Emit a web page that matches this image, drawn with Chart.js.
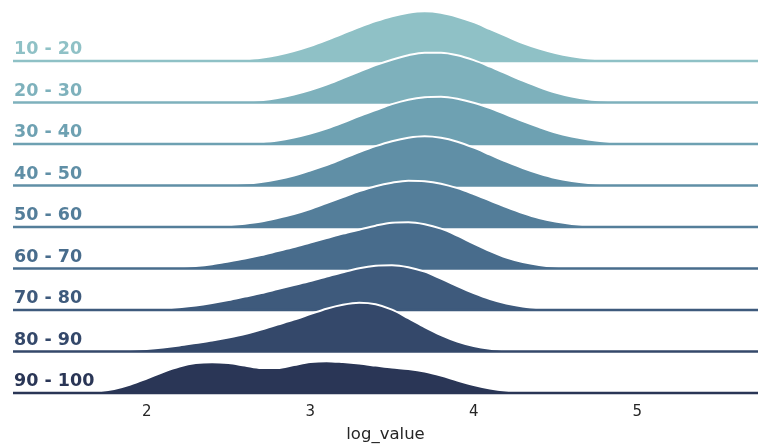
<!DOCTYPE html>
<html>
<head>
<meta charset="utf-8">
<title>log_value ridgeline</title>
<script src="https://cdn.jsdelivr.net/npm/chart.js@4.4.1/dist/chart.umd.min.js"></script>
<style>
  html, body { margin: 0; padding: 0; background: #ffffff; }
  #wrap { width: 758px; height: 445px; }
</style>
</head>
<body>
<div id="wrap"><canvas id="ridges" width="758" height="445"></canvas></div>
<script>
// Age groups, top ridge first
const AGE_GROUPS = ['10 - 20', '20 - 30', '30 - 40', '40 - 50', '50 - 60', '60 - 70', '70 - 80', '80 - 90', '90 - 100'];

// log_value positions where each density is sampled
const LOG_VALUE_GRID = [1.5, 1.6, 1.7, 1.8, 1.9, 2.0, 2.1, 2.2, 2.3, 2.4, 2.5, 2.6, 2.7, 2.8, 2.9,
                        3.0, 3.1, 3.2, 3.3, 3.4, 3.5, 3.6, 3.7, 3.8, 3.9,
                        4.0, 4.1, 4.2, 4.3, 4.4, 4.5, 4.6, 4.7, 4.8, 4.9, 5.0, 5.1];

// Kernel density of log_value for each age group
const DENSITY_10_20 = [0, 0, 0, 0, 0, 0, 0, 0, 0.002, 0.006, 0.015, 0.033, 0.065, 0.12, 0.2,
                       0.3, 0.42, 0.55, 0.68, 0.8, 0.9, 0.97, 1.0, 0.97, 0.89,
                       0.78, 0.64, 0.5, 0.36, 0.25, 0.16, 0.095, 0.05, 0.025, 0.011, 0.004, 0.001];
const DENSITY_20_30 = [0, 0, 0, 0, 0, 0, 0, 0, 0, 0.003, 0.008, 0.02, 0.045, 0.09, 0.16,
                       0.25, 0.36, 0.49, 0.62, 0.75, 0.86, 0.95, 1.0, 1.0, 0.95,
                       0.85, 0.72, 0.58, 0.44, 0.31, 0.2, 0.12, 0.065, 0.033, 0.015, 0.006, 0.002];
const DENSITY_30_40 = [0, 0, 0, 0, 0, 0, 0, 0, 0, 0.002, 0.006, 0.015, 0.035, 0.07, 0.13,
                       0.21, 0.31, 0.43, 0.56, 0.68, 0.8, 0.89, 0.94, 0.95, 0.91,
                       0.83, 0.72, 0.59, 0.46, 0.34, 0.23, 0.15, 0.09, 0.05, 0.025, 0.011, 0.004];
const DENSITY_40_50 = [0, 0, 0, 0, 0, 0, 0, 0, 0.003, 0.008, 0.018, 0.038, 0.072, 0.125, 0.2,
                       0.3, 0.41, 0.54, 0.67, 0.79, 0.89, 0.96, 0.99, 0.96, 0.88,
                       0.76, 0.62, 0.48, 0.35, 0.24, 0.15, 0.09, 0.05, 0.025, 0.011, 0.004, 0.001];
const DENSITY_50_60 = [0, 0, 0, 0, 0, 0, 0, 0.003, 0.008, 0.018, 0.036, 0.066, 0.11, 0.18, 0.26,
                       0.36, 0.48, 0.6, 0.72, 0.82, 0.89, 0.93, 0.92, 0.87, 0.78,
                       0.66, 0.53, 0.4, 0.28, 0.18, 0.11, 0.06, 0.03, 0.014, 0.006, 0.002, 0];
const DENSITY_60_70 = [0, 0, 0, 0, 0, 0.003, 0.01, 0.024, 0.048, 0.085, 0.14, 0.2, 0.27, 0.35, 0.43,
                       0.52, 0.61, 0.7, 0.78, 0.86, 0.92, 0.93, 0.89, 0.8, 0.66,
                       0.5, 0.35, 0.22, 0.13, 0.07, 0.035, 0.016, 0.006, 0.002, 0, 0, 0];
const DENSITY_70_80 = [0, 0, 0, 0.002, 0.006, 0.014, 0.03, 0.055, 0.09, 0.14, 0.2, 0.27, 0.34, 0.42, 0.5,
                       0.58, 0.67, 0.76, 0.84, 0.89, 0.9, 0.86, 0.77, 0.63, 0.48,
                       0.34, 0.22, 0.13, 0.07, 0.035, 0.016, 0.006, 0.002, 0, 0, 0, 0];
const DENSITY_80_90 = [0, 0.002, 0.006, 0.014, 0.028, 0.05, 0.08, 0.12, 0.17, 0.22, 0.28, 0.35, 0.44, 0.54, 0.64,
                       0.75, 0.86, 0.94, 0.98, 0.95, 0.84, 0.67, 0.49, 0.33, 0.2,
                       0.11, 0.055, 0.025, 0.01, 0.003, 0, 0, 0, 0, 0, 0, 0];
const DENSITY_90_100 = [0.002, 0.008, 0.03, 0.08, 0.17, 0.29, 0.42, 0.53, 0.6, 0.62, 0.6, 0.55, 0.5, 0.5, 0.56,
                        0.62, 0.64, 0.62, 0.59, 0.55, 0.51, 0.48, 0.43, 0.35, 0.25,
                        0.16, 0.09, 0.045, 0.02, 0.008, 0.002, 0, 0, 0, 0, 0, 0];

const DENSITIES = [DENSITY_10_20, DENSITY_20_30, DENSITY_30_40, DENSITY_40_50, DENSITY_50_60,
                   DENSITY_60_70, DENSITY_70_80, DENSITY_80_90, DENSITY_90_100];

// x axis
const X_TICKS = [2, 3, 4, 5];
const X_MIN = 1.182;
const X_MAX = 5.739;
const X_TITLE = 'log_value';

// Layout of the stacked ridges (in y-axis units)
const ROW_STEP = 1;        // distance between neighbouring baselines
const RIDGE_SCALE = 1.2;   // height of one density unit
const LABEL_LIFT = 0.27;   // group label sits a little above its baseline
const N = AGE_GROUPS.length;

// Cubehelix palette (start 0, rot -0.25, light 0.7, dark 0.15)
function cubehelix(n, opts) {
  const { start = 0, rot = -0.25, gamma = 1, hue = 0.8, light = 0.7, dark = 0.15 } = opts || {};
  const chan = (p0, p1) => x => {
    const xg = Math.pow(x, gamma);
    const a = hue * xg * (1 - xg) / 2;
    const phi = 2 * Math.PI * (start / 3 + rot * x);
    return xg + a * (p0 * Math.cos(phi) + p1 * Math.sin(phi));
  };
  const r = chan(-0.14861, 1.78277), g = chan(-0.29227, -0.90649), b = chan(1.97294, 0.0);
  const out = [];
  for (let i = 0; i < n; i++) {
    const x = light + (dark - light) * i / (n - 1);
    const c = [r(x), g(x), b(x)].map(v => Math.round(Math.min(1, Math.max(0, v)) * 255));
    out.push('rgb(' + c.join(',') + ')');
  }
  return out;
}
const PALETTE = cubehelix(10).slice(0, N);

const baseOf = i => (N - 1 - i) * ROW_STEP;

// One filled ridge plus one full-width baseline per age group.
// Lower groups are painted later so they overlap the ones above.
const datasets = [];
DENSITIES.forEach((dens, i) => {
  const base = baseOf(i);
  datasets.push({
    label: AGE_GROUPS[i],
    data: LOG_VALUE_GRID.map((v, j) => ({ x: v, y: base + dens[j] * RIDGE_SCALE })),
    fill: { value: base },
    backgroundColor: PALETTE[i],
    borderColor: '#ffffff',
    borderWidth: 2,
    pointRadius: 0,
    cubicInterpolationMode: 'monotone',
    order: (N - i) * 2 + 1
  });
  datasets.push({
    label: AGE_GROUPS[i] + ' baseline',
    data: [{ x: X_MIN, y: base }, { x: X_MAX, y: base }],
    borderColor: PALETTE[i],
    borderWidth: 2.5,
    borderCapStyle: 'butt',
    pointRadius: 0,
    fill: false,
    order: (N - i) * 2
  });
});

new Chart(document.getElementById('ridges'), {
  type: 'line',
  data: { datasets },
  options: {
    responsive: false,
    animation: false,
    events: [],
    layout: { padding: { left: 11, right: 0, top: 0, bottom: 0 } },
    plugins: { legend: { display: false }, tooltip: { enabled: false } },
    scales: {
      x: {
        type: 'linear',
        min: X_MIN,
        max: X_MAX,
        grid: { display: false, drawTicks: false },
        border: { display: false },
        afterBuildTicks: s => { s.ticks = X_TICKS.map(v => ({ value: v })); },
        ticks: {
          padding: 3.8,
          color: '#262626',
          font: { family: 'DejaVu Sans', size: 15 },
          callback: v => String(v)
        },
        title: {
          display: true,
          text: X_TITLE,
          color: '#262626',
          font: { family: 'DejaVu Sans', size: 16.5 },
          padding: { top: 0, bottom: 0 }
        }
      },
      y: {
        type: 'linear',
        min: -0.159,
        max: 9.425,
        grid: { display: false, drawTicks: false },
        border: { display: false },
        afterBuildTicks: s => { s.ticks = AGE_GROUPS.map((_, i) => ({ value: baseOf(i) + LABEL_LIFT })); },
        ticks: {
          mirror: true,
          padding: 1,
          autoSkip: false,
          color: ctx => PALETTE[ctx.index],
          font: { family: 'DejaVu Sans', size: 17.5, weight: 'bold', lineHeight: 0.1 },
          callback: (v, idx) => AGE_GROUPS[idx]
        }
      }
    }
  }
});
</script>
</body>
</html>
